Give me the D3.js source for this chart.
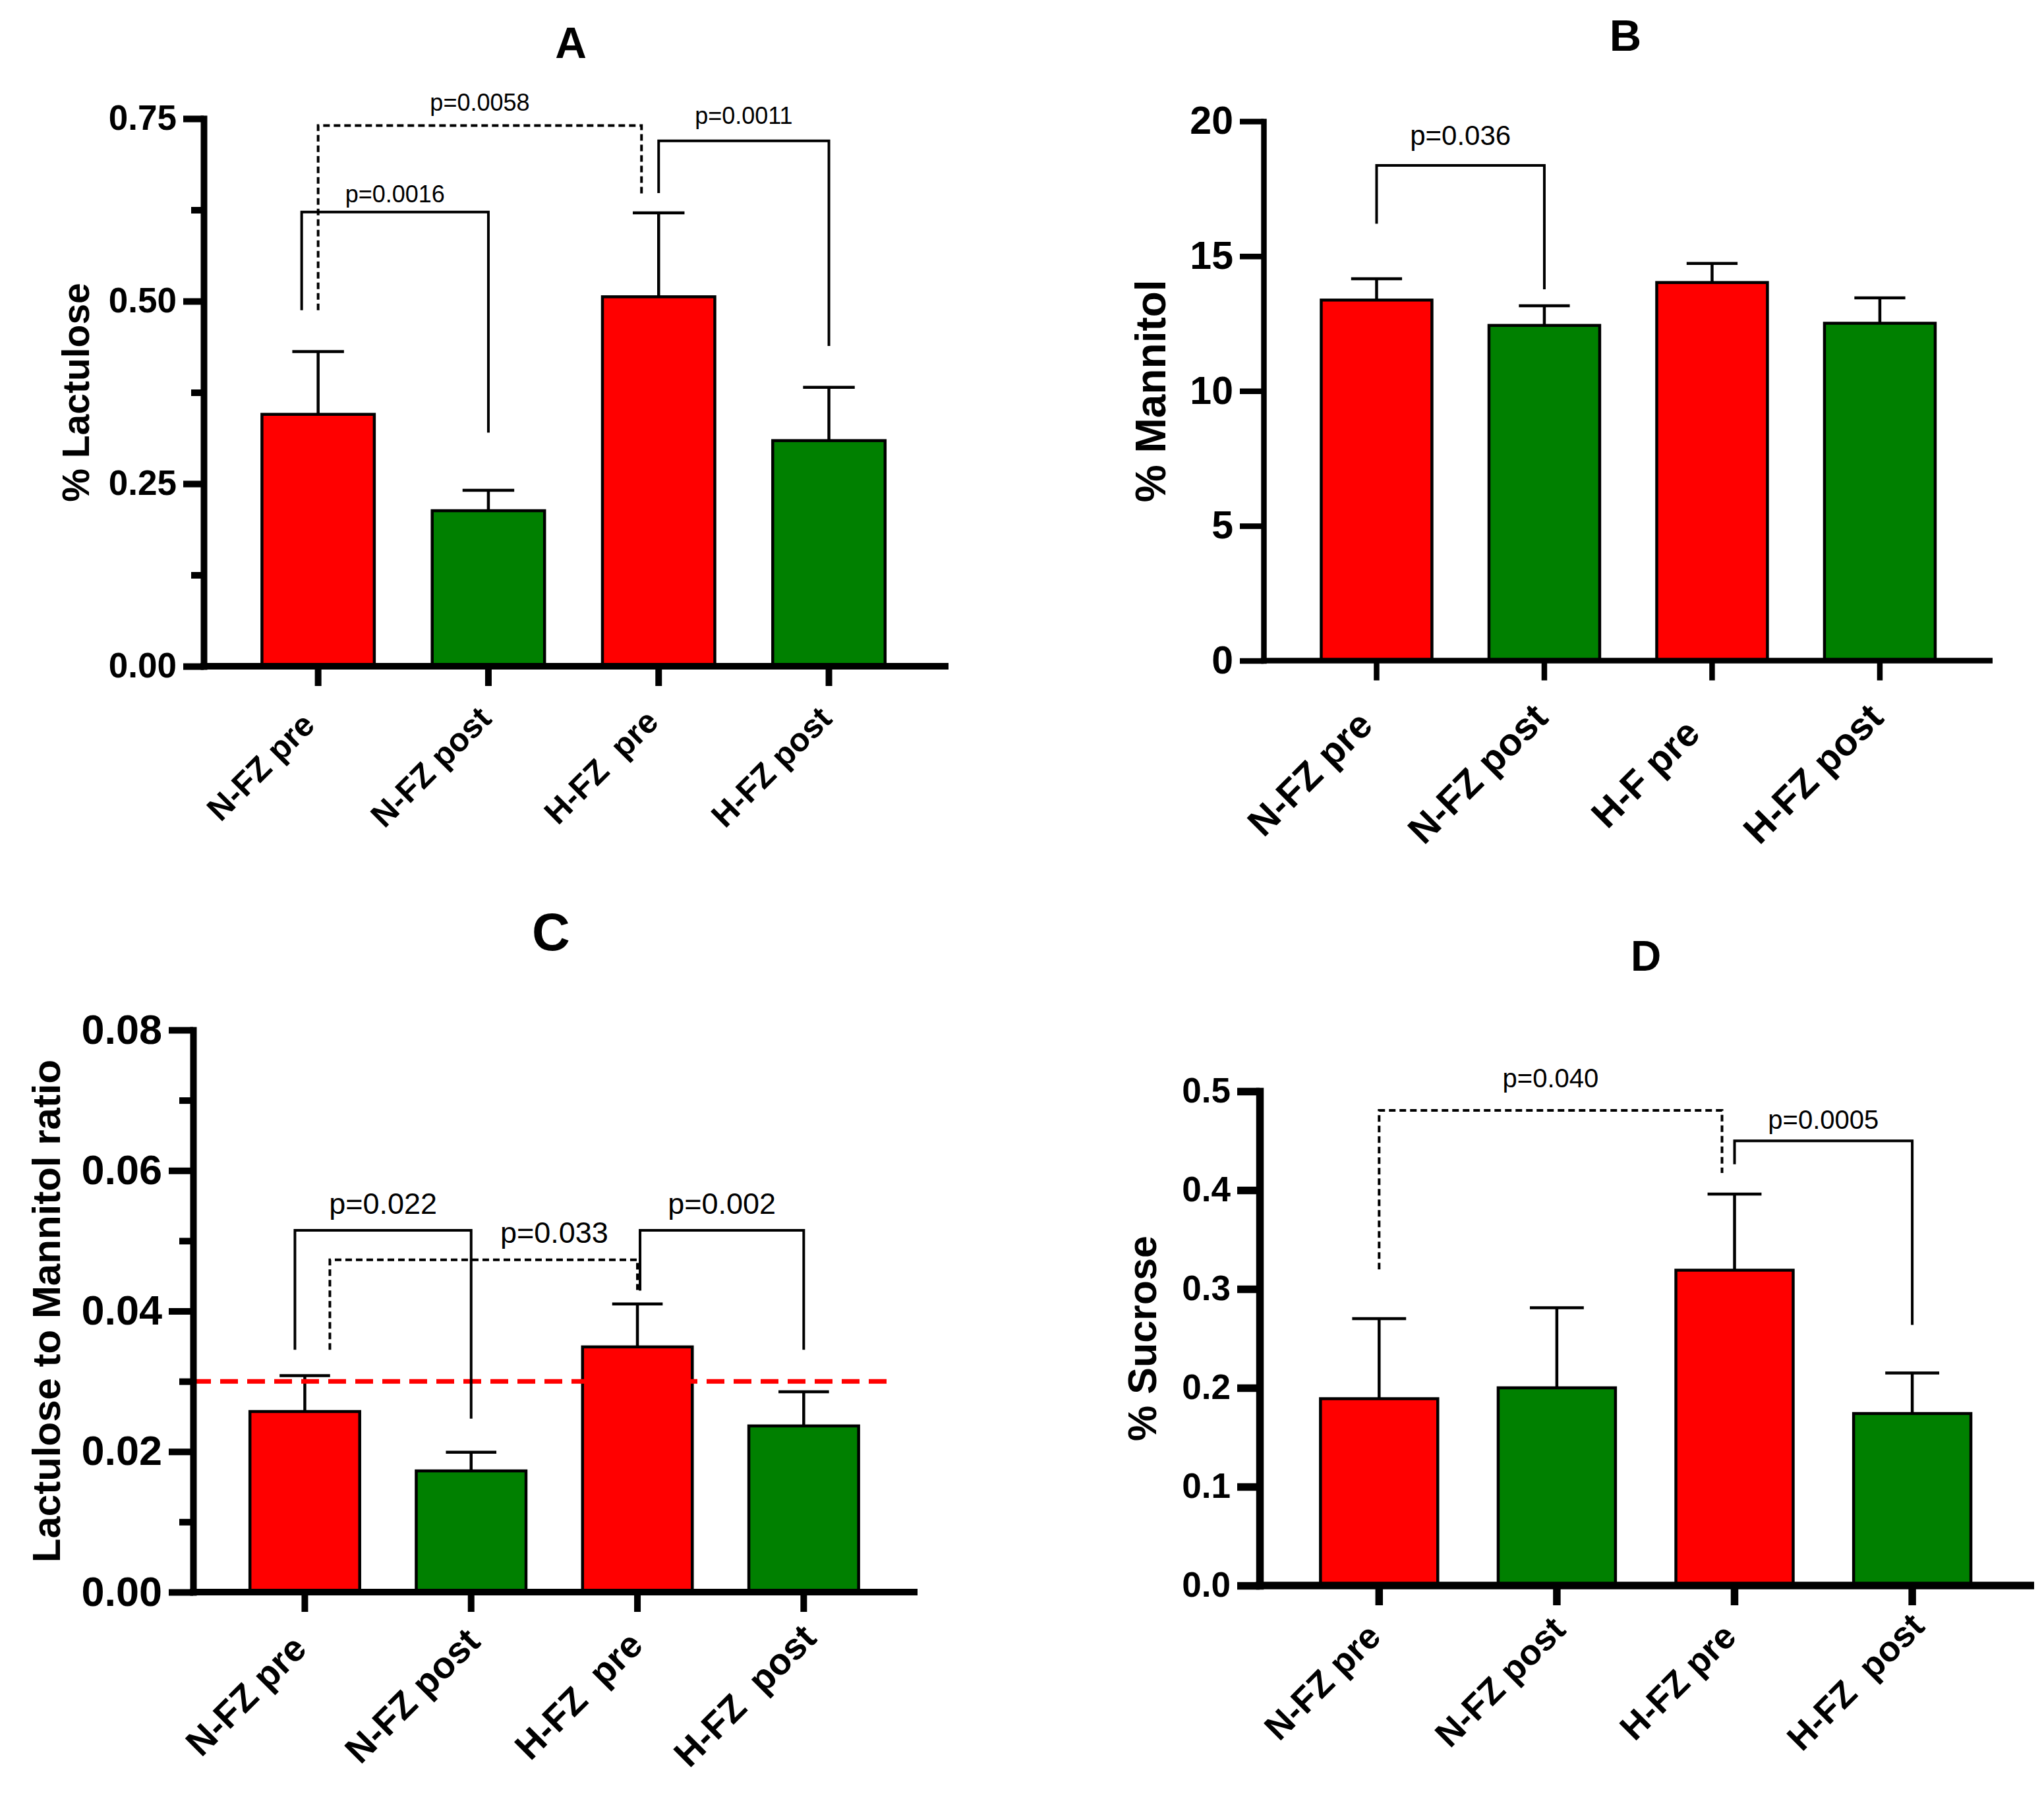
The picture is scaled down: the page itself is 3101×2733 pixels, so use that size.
<!DOCTYPE html>
<html>
<head>
<meta charset="utf-8">
<script src="https://cdn.jsdelivr.net/npm/d3@7"></script>
<style>
  body { margin: 0; background: #fff; }
  svg { display: block; }
  text { white-space: pre; }
</style>
</head>
<body>
<svg id="chart"></svg>
<script>
// ---- data ----
const barColors = ["#ff0000", "#008000", "#ff0000", "#008000"];

// A: % lactulose
const labelsA = ["N-FZ pre", "N-FZ post", "H-FZ  pre", "H-FZ post"];
const lactuloseMean = [0.345, 0.213, 0.506, 0.309];
const lactuloseErr = [0.086, 0.028, 0.115, 0.073];
const ticksA = [0, 0.25, 0.5, 0.75];
const minorA = [0.125, 0.375, 0.625];
const bracketsA = [
    { from: 0, to: 1, top: 0.622, ends: [0.4875, 0.32], label: "p=0.0016", labelY: 0.635 },
    { from: 0, to: 2, top: 0.7405, ends: [0.4875, 0.6455], label: "p=0.0058", labelY: 0.761 },
    { from: 2, to: 3, top: 0.7195, ends: [0.648, 0.4386], label: "p=0.0011", labelY: 0.743 }
];

// B: % mannitol
const labelsB = ["N-FZ pre", "N-FZ post", "H-F pre", "H-FZ post"];
const mannitolMean = [13.37, 12.43, 14.02, 12.51];
const mannitolErr = [0.79, 0.73, 0.71, 0.94];
const ticksB = [0, 5, 10, 15, 20];
const bracketsB = [
    { from: 0, to: 1, top: 18.36, ends: [16.2, 13.77], label: "p=0.036", labelY: 19.11 }
];

// C: lactulose / mannitol ratio
const labelsC = ["N-FZ pre", "N-FZ post", "H-FZ  pre", "H-FZ  post"];
const ratioMean = [0.0257, 0.01725, 0.0349, 0.02365];
const ratioErr = [0.0051, 0.00265, 0.0061, 0.00485];
const ticksC = [0, 0.02, 0.04, 0.06, 0.08];
const minorC = [0.01, 0.03, 0.05, 0.07];
const ratioCutoff = 0.03;
const bracketsC = [
    { from: 0, to: 1, top: 0.0515, ends: [0.0345, 0.0247], label: "p=0.022", labelY: 0.0538 },
    { from: 0, to: 2, top: 0.0473, ends: [0.0345, 0.043], label: "p=0.033", labelY: 0.0497, labelAt: 1.5 },
    { from: 2, to: 3, top: 0.0515, ends: [0.0429, 0.0345], label: "p=0.002", labelY: 0.0538 }
];

// D: % sucrose
const labelsD = ["N-FZ pre", "N-FZ post", "H-FZ pre", "H-FZ  post"];
const sucroseMean = [0.189, 0.200, 0.319, 0.174];
const sucroseErr = [0.081, 0.081, 0.077, 0.041];
const ticksD = [0, 0.1, 0.2, 0.3, 0.4, 0.5];
const bracketsD = [
    { from: 0, to: 2, top: 0.4806, ends: [0.3199, 0.4173], label: "p=0.040", labelY: 0.5043 },
    { from: 2, to: 3, top: 0.4499, ends: [0.4262, 0.2637], label: "p=0.0005", labelY: 0.4617 }
];

const FONT = "'Liberation Sans', Arial, Helvetica, sans-serif";

class BarPanel {
    constructor(svg, opts) {
        this.svg = svg;
        this.o = opts;
    }

    draw() {
        const o = this.o;
        const g = this.svg.append("g").attr("font-family", FONT);

        const x = d3.scaleBand()
            .domain(d3.range(o.means.length))
            .range(o.band)
            .paddingInner(0.34)
            .paddingOuter(0.17);
        const y = d3.scaleLinear().domain([0, o.yMax]).range([o.yBot, o.yTop]);
        const bw = x.bandwidth();
        const cx = i => x(i) + bw / 2;

        // error bars (upper only)
        const eb = g.append("g").attr("stroke", "#000").attr("stroke-width", 4.5);
        eb.selectAll("line.v").data(o.means).join("line")
            .attr("class", "v")
            .attr("x1", (d, i) => cx(i)).attr("x2", (d, i) => cx(i))
            .attr("y1", d => y(d)).attr("y2", (d, i) => y(d + o.errs[i]));
        eb.selectAll("line.cap").data(o.means).join("line")
            .attr("class", "cap")
            .attr("x1", (d, i) => cx(i) - bw * 0.23).attr("x2", (d, i) => cx(i) + bw * 0.23)
            .attr("y1", (d, i) => y(d + o.errs[i])).attr("y2", (d, i) => y(d + o.errs[i]));

        // bars
        g.selectAll("rect.bar").data(o.means).join("rect")
            .attr("class", "bar")
            .attr("x", (d, i) => x(i))
            .attr("y", d => y(d))
            .attr("width", bw)
            .attr("height", d => y(0) - y(d))
            .attr("fill", (d, i) => barColors[i])
            .attr("stroke", "#000")
            .attr("stroke-width", 4.5);

        // dashed cut-off, runs over the bars
        if (o.refValue != null) {
            g.append("line")
                .attr("x1", o.x0).attr("x2", o.refEnd)
                .attr("y1", y(o.refValue)).attr("y2", y(o.refValue))
                .attr("stroke", "#ff0000")
                .attr("stroke-width", 7)
                .attr("stroke-dasharray", "27,14");
        }

        // y axis
        const gy = g.append("g")
            .attr("transform", `translate(${o.x0},0)`)
            .call(d3.axisLeft(y)
                .tickValues(o.ticks)
                .tickFormat(d3.format(o.fmt))
                .tickSize(o.tick)
                .tickSizeOuter(0)
                .tickPadding(10))
            .attr("font-family", FONT);
        gy.select(".domain").attr("stroke-width", o.axisW).attr("stroke-linecap", "square");
        gy.selectAll(".tick line").attr("stroke-width", o.axisW);
        gy.selectAll(".tick text")
            .attr("font-size", o.tickFont)
            .attr("font-weight", "bold")
            .attr("fill", "#000");

        if (o.minor) {
            const gm = g.append("g")
                .attr("transform", `translate(${o.x0},0)`)
                .call(d3.axisLeft(y).tickValues(o.minor).tickFormat("").tickSize(o.minorTick));
            gm.select(".domain").remove();
            gm.selectAll(".tick line").attr("stroke-width", o.axisW);
        }

        // x axis
        const gx = g.append("g")
            .attr("transform", `translate(0,${o.yBot})`)
            .call(d3.axisBottom(x)
                .tickSize(o.xTick)
                .tickSizeOuter(0)
                .tickFormat(i => o.labels[i]))
            .attr("font-family", FONT);
        gx.select(".domain").remove();
        gx.append("line")
            .attr("x1", o.x0 - o.axisW / 2).attr("x2", o.xEnd)
            .attr("stroke", "#000")
            .attr("stroke-width", o.axisW);
        gx.selectAll(".tick line").attr("stroke-width", o.axisW);
        gx.selectAll(".tick text")
            .attr("font-size", o.catFont)
            .attr("font-weight", "bold")
            .attr("fill", "#000")
            .attr("x", null).attr("y", null)
            .attr("dy", "0.35em")
            .attr("text-anchor", "middle")
            .attr("transform", `translate(${-o.catDx * o.catFont},${o.catDy * o.catFont}) rotate(-45)`);

        // significance brackets
        const bg = g.append("g").attr("fill", "none").attr("stroke", "#000").attr("stroke-width", 4);
        o.brackets.forEach((b, k) => {
            const st = o.bracketStyle[k];
            const xl = cx(b.from) + st.shift[0];
            const xr = cx(b.to) + st.shift[1];
            bg.append("path")
                .attr("d", `M${xl},${y(b.ends[0])}V${y(b.top)}H${xr}V${y(b.ends[1])}`)
                .attr("stroke-dasharray", st.dash ? "10,6" : null);
            const lx = b.labelAt != null ? cx(0) + b.labelAt * x.step() : (xl + xr) / 2;
            g.append("text")
                .attr("x", lx)
                .attr("y", y(b.labelY))
                .attr("text-anchor", "middle")
                .attr("font-size", o.pFont)
                .text(b.label);
        });

        // panel letter
        g.append("text")
            .attr("x", o.titleX).attr("y", o.titleY)
            .attr("text-anchor", "middle")
            .attr("font-size", o.titleFont)
            .attr("font-weight", "bold")
            .text(o.title);

        // y title
        g.append("text")
            .attr("transform", `translate(${o.x0 - o.yTitleOff},${(o.yTop + o.yBot) / 2}) rotate(-90)`)
            .attr("text-anchor", "middle")
            .attr("font-size", o.yTitleFont)
            .attr("font-weight", "bold")
            .text(o.yTitle);
    }
}

const svg = d3.select("#chart")
    .attr("width", 3101)
    .attr("height", 2733)
    .attr("viewBox", "0 0 3101 2733");

svg.append("rect").attr("width", 3101).attr("height", 2733).attr("fill", "#fff");

new BarPanel(svg, {
    title: "A", yTitle: "% Lactulose", labels: labelsA,
    means: lactuloseMean, errs: lactuloseErr, yMax: 0.75,
    ticks: ticksA, minor: minorA, fmt: ".2f", brackets: bracketsA,
    bracketStyle: [{ dash: false, shift: [-25, 0] }, { dash: true, shift: [0, -26] }, { dash: false, shift: [0, 0] }],
    x0: 309, yTop: 180, yBot: 1011, xEnd: 1439, band: [353.5, 1386.7],
    axisW: 10, tick: 31, minorTick: 19, xTick: 30,
    tickFont: 53, catFont: 50, catDx: 1.75, catDy: 3.05, pFont: 36,
    titleX: 866, titleY: 88, titleFont: 66, yTitleOff: 174, yTitleFont: 57
}).draw();

new BarPanel(svg, {
    title: "B", yTitle: "% Mannitol", labels: labelsB,
    means: mannitolMean, errs: mannitolErr, yMax: 20,
    ticks: ticksB, fmt: "d", brackets: bracketsB,
    bracketStyle: [{ dash: false, shift: [0, 0] }],
    x0: 1917, yTop: 184, yBot: 1002.5, xEnd: 3023, band: [1961.2, 2979.2],
    axisW: 8.5, tick: 36, xTick: 30,
    tickFont: 59, catFont: 58, catDx: 1.75, catDy: 2.95, pFont: 42,
    titleX: 2466, titleY: 77, titleFont: 67, yTitleOff: 149, yTitleFont: 64
}).draw();

new BarPanel(svg, {
    title: "C", yTitle: "Lactulose to Mannitol ratio", labels: labelsC,
    means: ratioMean, errs: ratioErr, yMax: 0.08,
    ticks: ticksC, minor: minorC, fmt: ".2f", brackets: bracketsC,
    bracketStyle: [{ dash: false, shift: [-15, 0] }, { dash: true, shift: [38, 0] }, { dash: false, shift: [4, 0] }],
    refValue: ratioCutoff, refEnd: 1351,
    x0: 293, yTop: 1563, yBot: 2416, xEnd: 1392, band: [336.3, 1345.5],
    axisW: 10, tick: 37, minorTick: 21, xTick: 30,
    tickFont: 63, catFont: 56, catDx: 1.6, catDy: 2.8, pFont: 45,
    titleX: 836, titleY: 1442, titleFont: 80, yTitleOff: 202, yTitleFont: 60
}).draw();

new BarPanel(svg, {
    title: "D", yTitle: "% Sucrose", labels: labelsD,
    means: sucroseMean, errs: sucroseErr, yMax: 0.5,
    ticks: ticksD, fmt: ".1f", brackets: bracketsD,
    bracketStyle: [{ dash: true, shift: [0, -19] }, { dash: false, shift: [0, 0] }],
    x0: 1911, yTop: 1656, yBot: 2406, xEnd: 3086, band: [1957.5, 3035.9],
    axisW: 11.5, tick: 34, xTick: 30,
    tickFont: 53, catFont: 54, catDx: 1.6, catDy: 2.7, pFont: 40,
    titleX: 2497, titleY: 1473, titleFont: 64, yTitleOff: 157, yTitleFont: 61
}).draw();
</script>
</body>
</html>
